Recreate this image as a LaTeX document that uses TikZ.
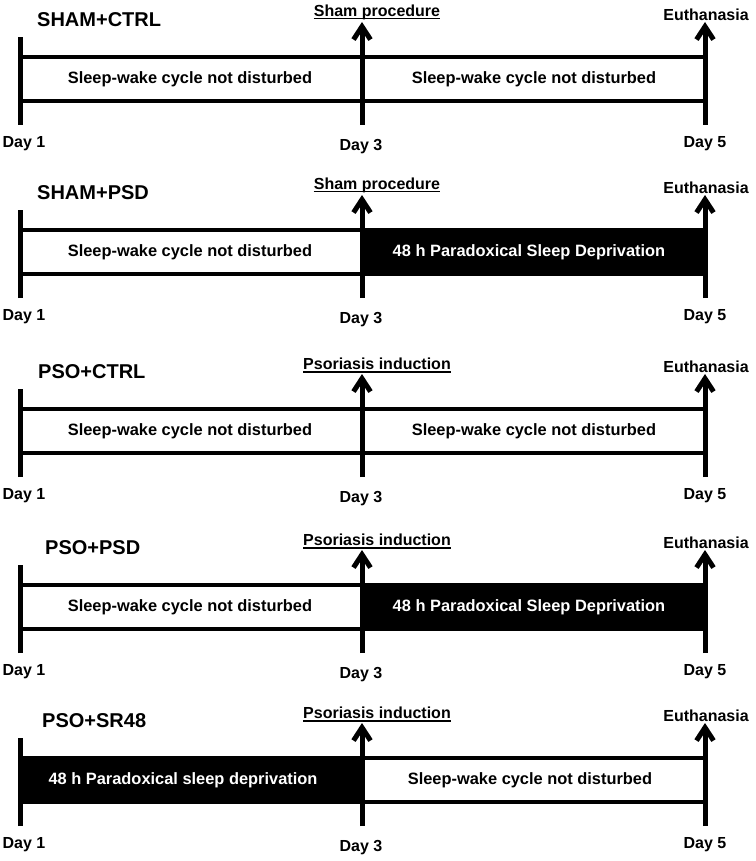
\documentclass[tikz,border=0pt]{standalone}
\usepackage{fontspec}
\setmainfont{Liberation Sans}
\usetikzlibrary{arrows.meta}
\tikzset{
  lbl/.style={font=\fontsize{16}{19}\selectfont\bfseries, inner sep=0pt},
  boxtxt/.style={font=\fontsize{16.4}{19}\selectfont\bfseries, inner sep=0pt},
  ttl/.style={font=\fontsize{20}{24}\selectfont\bfseries, inner sep=0pt, anchor=west},
  hline/.style={line width=4pt},
  vbar/.style={line width=5pt},
  uparrow/.style={line width=5pt, -{Straight Barb[length=13pt,width=17pt]}},
  ulstyle/.style={line width=1.4pt},
}
% #1 prefix, #2 top-line y, #3 title, #4 title x, #5 annotation, #6 mode
\newcommand\tpanel[6]{%
  \coordinate (#1L1) at (20,{#2-20});
  \coordinate (#1L2) at (20,{#2+68});
  \coordinate (#1M1) at (362,{#2+68});
  \coordinate (#1M2) at (362,{#2-35});
  \coordinate (#1R1) at (705,{#2+68});
  \coordinate (#1R2) at (705,{#2-35});
  \coordinate (#1tl) at (20,#2);
  \coordinate (#1tm) at (362,#2);
  \coordinate (#1tr) at (705,#2);
  \coordinate (#1bl) at (20,{#2+44});
  \coordinate (#1bm) at (362,{#2+44});
  \coordinate (#1br) at (705,{#2+44});
  \coordinate (#1kl) at (20,{#2-2});
  \coordinate (#1km) at (362,{#2-2});
  \coordinate (#1kM) at (362,{#2+46});
  \coordinate (#1kr) at (705,{#2+46});
  \ifcase#6
    \draw[hline] (#1tl) -- (#1tr);
    \draw[hline] (#1bl) -- (#1br);
    \node[boxtxt] (#1txtA) at (190,{#2+22}) {Sleep-wake cycle not disturbed};
    \node[boxtxt] (#1txtB) at (534,{#2+22}) {Sleep-wake cycle not disturbed};
  \or
    \draw[hline] (#1tl) -- (#1tm);
    \draw[hline] (#1bl) -- (#1bm);
    \fill (#1km) rectangle (#1kr);
    \node[boxtxt] (#1txtA) at (190,{#2+22}) {Sleep-wake cycle not disturbed};
    \node[boxtxt, text=white] (#1txtB) at (529,{#2+22}) {48 h Paradoxical Sleep Deprivation};
  \or
    \fill (#1kl) rectangle (#1kM);
    \draw[hline] (#1tm) -- (#1tr);
    \draw[hline] (#1bm) -- (#1br);
    \node[boxtxt, text=white] (#1txtA) at (183,{#2+22}) {48 h Paradoxical sleep deprivation};
    \node[boxtxt] (#1txtB) at (530,{#2+22}) {Sleep-wake cycle not disturbed};
  \fi
  \draw[vbar] (#1L2) -- (#1L1);
  \draw[uparrow] (#1M1) -- (#1M2);
  \draw[uparrow] (#1R1) -- (#1R2);
  \node[ttl] (#1title) at (#4,{#2-37}) {#3};
  \node[lbl] (#1ann) at (377,{#2-45}) {#5};
  \draw[ulstyle] ([yshift=-2.2pt]#1ann.base west) -- ([yshift=-2.2pt]#1ann.base east);
  \node[lbl] (#1eu) at (706,{#2-42}) {Euthanasia};
  \node[lbl] (#1d1) at (24,{#2+87}) {Day 1};
  \node[lbl] (#1d3) at (361,{#2+90}) {Day 3};
  \node[lbl] (#1d5) at (705,{#2+87}) {Day 5};
}
\begin{document}
\begin{tikzpicture}[x=1pt,y=-1pt]
  \useasboundingbox (0,0) rectangle (755,861);
  \tpanel{p1}{57}{SHAM+CTRL}{37}{Sham procedure}{0}
  \tpanel{p2}{230}{SHAM+PSD}{37}{Sham procedure}{1}
  \tpanel{p3}{409}{PSO+CTRL}{38}{Psoriasis induction}{0}
  \tpanel{p4}{585}{PSO+PSD}{45}{Psoriasis induction}{1}
  \tpanel{p5}{758}{PSO+SR48}{42}{Psoriasis induction}{2}
\end{tikzpicture}
\end{document}
